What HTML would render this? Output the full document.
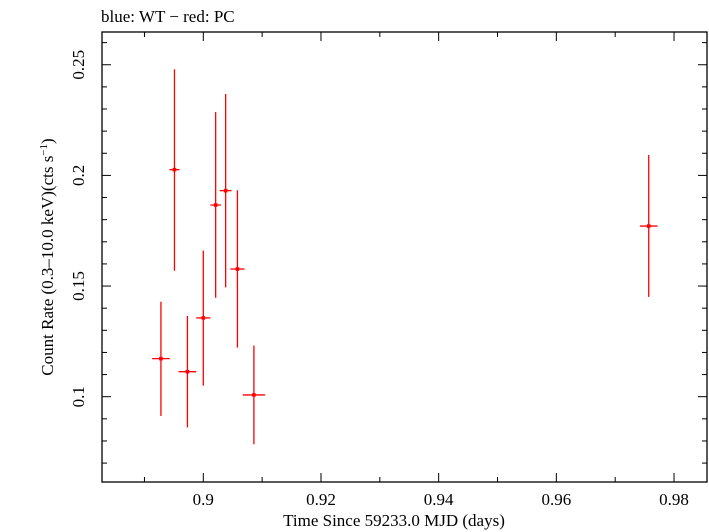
<!DOCTYPE html>
<html><head><meta charset="utf-8"><style>
html,body{margin:0;padding:0;background:#fff;}
svg{display:block;font-family:"Liberation Serif",serif;}
</style></head><body>
<svg id="chart" width="709" height="532" viewBox="0 0 709 532">
<text x="101" y="22" font-size="17">blue: WT − red: PC</text>
<rect x="102" y="32" width="605" height="450" fill="none" stroke="#000" stroke-width="1.3"/>
<g id="axes"></g>
<g id="marks"></g>
<text x="394" y="526" font-size="17" text-anchor="middle">Time Since 59233.0 MJD (days)</text>
<text transform="translate(53,257) rotate(-90)" font-size="17" text-anchor="middle">Count Rate (0.3–10.0 keV)(cts s<tspan dy="-6" font-size="11">−1</tspan><tspan dy="6">)</tspan></text>
</svg>
<script>
const times=[0.8928,0.8951,0.8973,0.9000,0.9021,0.9038,0.9058,0.9086,0.9757];
const timeErr=[0.0015,0.00085,0.0015,0.0012,0.0009,0.001,0.0012,0.0019,0.0015];
const rates=[0.1172,0.2026,0.1113,0.1356,0.1866,0.1931,0.1577,0.1008,0.1771];
const rateHi=[0.1429,0.2479,0.1365,0.1660,0.2286,0.2368,0.1933,0.1231,0.2092];
const rateLo=[0.0913,0.1569,0.0861,0.1050,0.1447,0.1494,0.1222,0.0785,0.1451];
const xTickLabels=["0.9","0.92","0.94","0.96","0.98"];
const yTickLabels=["0.1","0.15","0.2","0.25"];
const NS="http://www.w3.org/2000/svg";
function X(v){return 203.3+(v-0.9)*5884;}
function Y(v){return 396.7-(v-0.1)*2213;}
function mk(tag,attrs,parent){const e=document.createElementNS(NS,tag);for(const k in attrs)e.setAttribute(k,attrs[k]);parent.appendChild(e);return e;}
const axes=document.getElementById('axes'),marks=document.getElementById('marks');
for(let i=0;i<=10;i++){const v=0.88+i*0.01;const x=X(v);if(x<102||x>707)continue;
 const major=Math.abs((v*100)%2)<0.01||Math.abs((v*100)%2-2)<0.01;const L=major?9:5;
 const t1=mk('line',{x1:x,x2:x,y1:482,y2:482-L,stroke:'#000','stroke-width':1},axes);
 
 
 const t2=mk('line',{x1:x,x2:x,y1:32,y2:32+L,stroke:'#000','stroke-width':1},axes);
 
 }
xTickLabels.forEach(s=>{const t=mk('text',{x:X(parseFloat(s)),y:505,'font-size':17,'text-anchor':'middle'},axes);t.textContent=s;
 
 });
for(let i=0;i<=30;i++){const v=0.06+i*0.01;const y=Y(v);if(y<32||y>482)continue;
 const major=Math.round(v*100)%5===0;const L=major?9:5;
 const t1=mk('line',{x1:102,x2:102+L,y1:y,y2:y,stroke:'#000','stroke-width':1},axes);
 
 
 const t2=mk('line',{x1:707,x2:707-L,y1:y,y2:y,stroke:'#000','stroke-width':1},axes);
 
 }
yTickLabels.forEach(s=>{const y=Y(parseFloat(s));const t=mk('text',{transform:`translate(84,${y}) rotate(-90)`,'font-size':17,'text-anchor':'middle'},axes);t.textContent=s;
 
 });
times.forEach((t,i)=>{const g=mk('g',{},marks);
 
 
 mk('line',{x1:X(t),x2:X(t),y1:Y(rateHi[i]),y2:Y(rateLo[i]),stroke:'#f00','stroke-width':1.3},g);
 mk('line',{x1:X(t-timeErr[i]),x2:X(t+timeErr[i]),y1:Y(rates[i]),y2:Y(rates[i]),stroke:'#f00','stroke-width':1.3},g);
 mk('rect',{x:X(t)-1.8,y:Y(rates[i])-1.8,width:3.6,height:3.6,fill:'#f00'},g);});
</script>
</body></html>
